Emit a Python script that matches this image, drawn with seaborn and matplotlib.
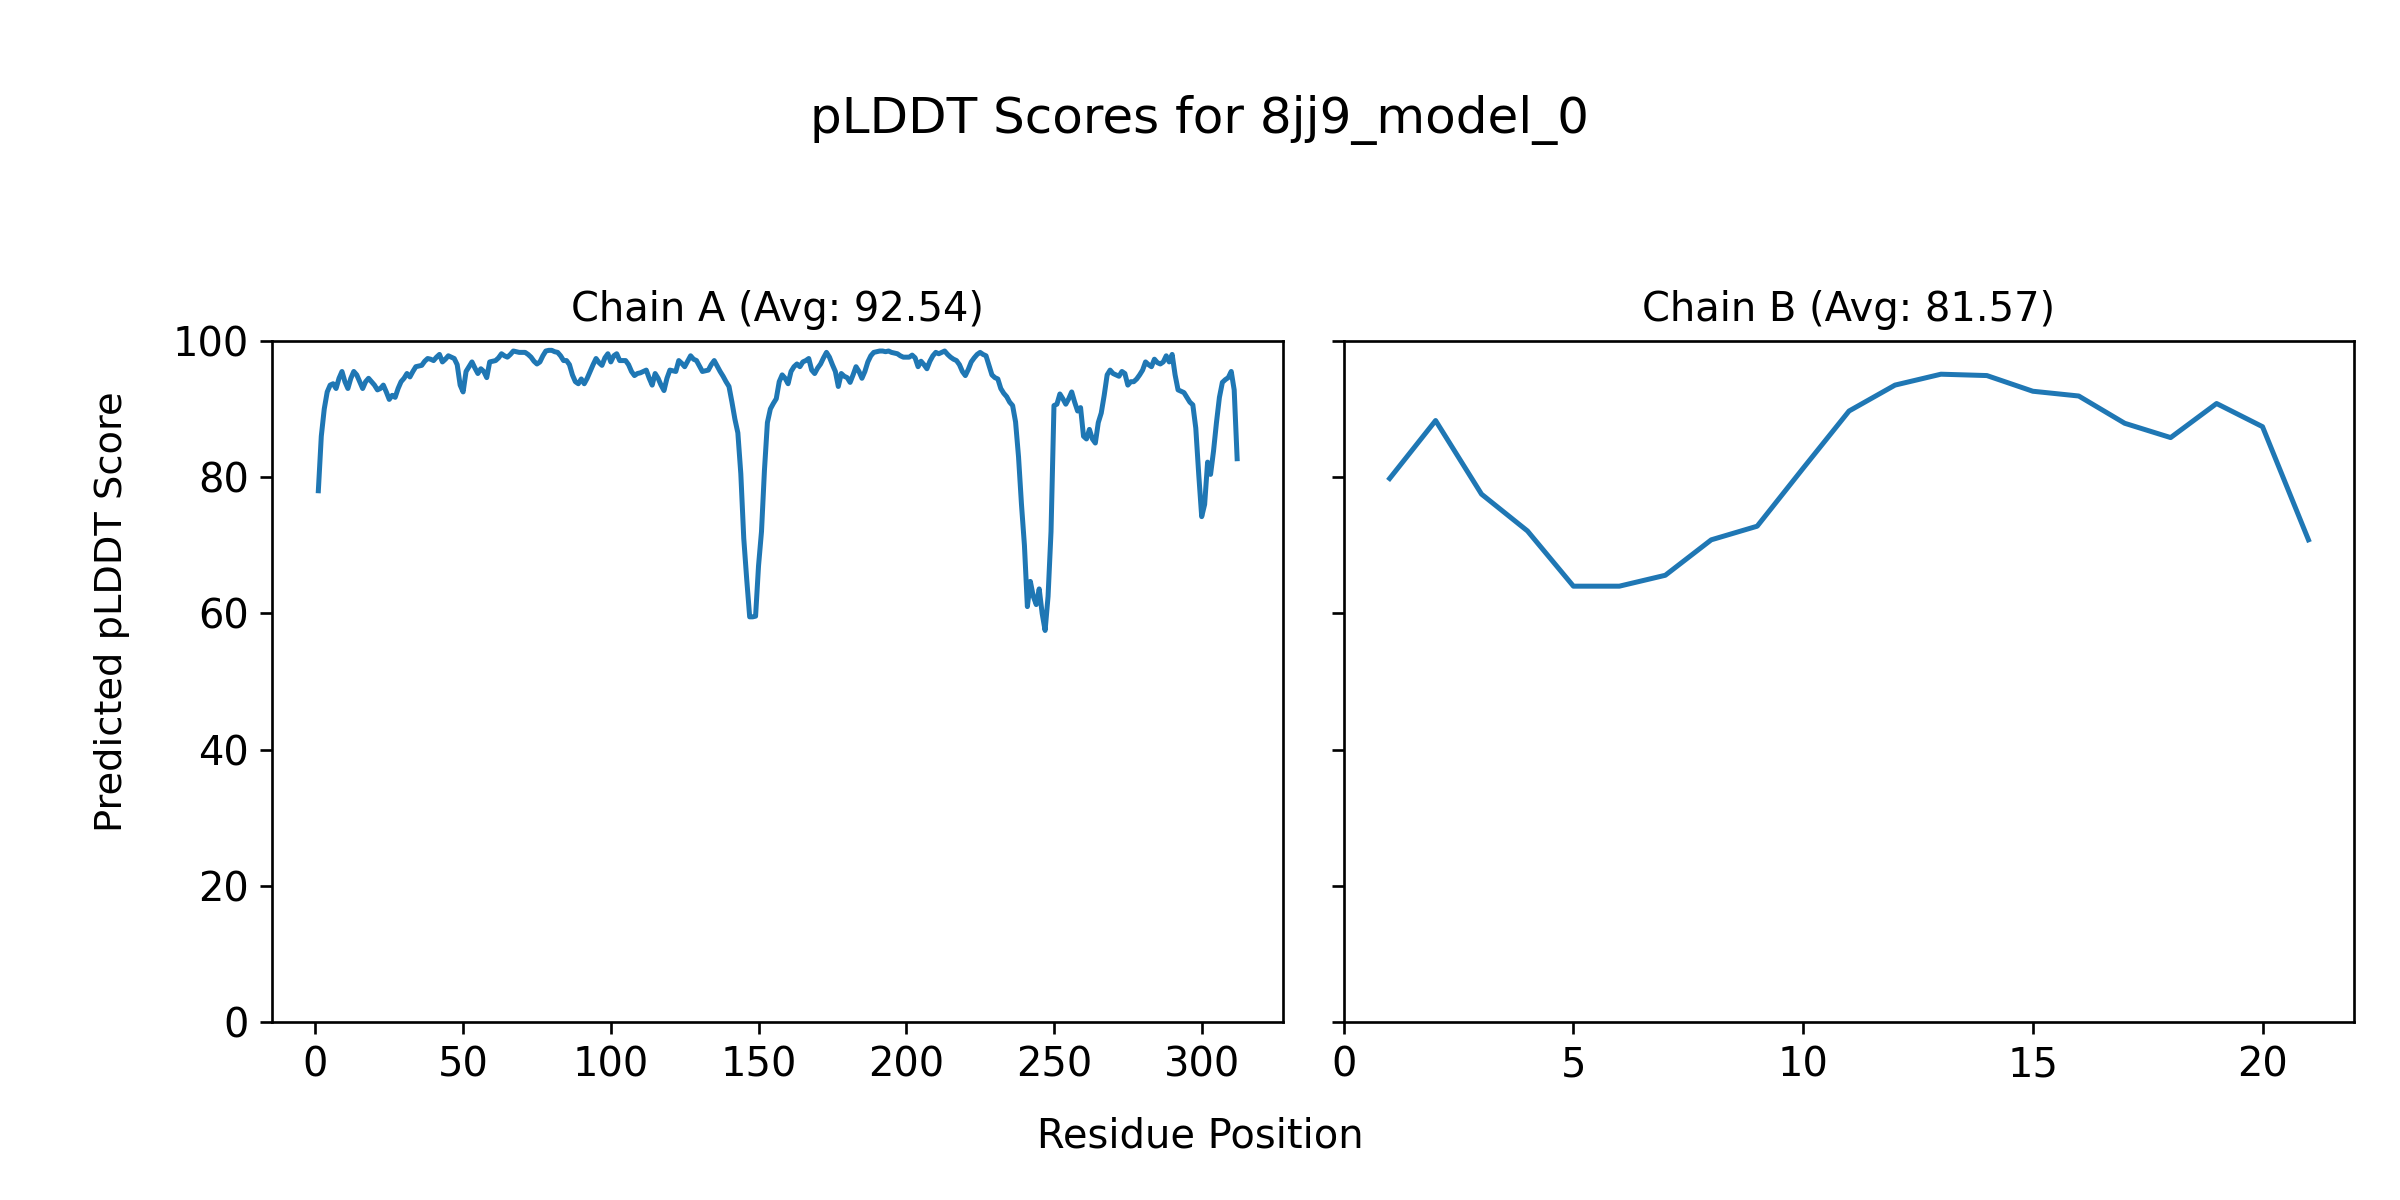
import matplotlib
matplotlib.use("Agg")
import matplotlib.pyplot as plt
import seaborn as sns

model_name = "8jj9_model_0"
chain_ids = ["A", "B"]
chain_avgs = [92.54, 81.57]

# per-residue pLDDT, chain A (residues 1..312)
plddt_a = [
    78, 86, 90, 92.5, 93.5, 93.7, 93, 94.5, 95.5, 94,
    93, 94.5, 95.5, 95, 94, 93, 94, 94.5, 94, 93.5,
    92.8, 93, 93.5, 92.5, 91.4, 92, 91.7, 93, 94, 94.5,
    95.2, 94.7, 95.5, 96.2, 96.3, 96.4, 97, 97.4, 97.3, 97.1,
    97.6, 98, 96.9, 97.3, 97.8, 97.6, 97.4, 96.5, 93.5, 92.5,
    95.5, 96.2, 96.9, 96, 95.2, 95.9, 95.5, 94.6, 96.9, 97,
    97.1, 97.5, 98.1, 97.8, 97.6, 98, 98.5, 98.4, 98.3, 98.3,
    98.3, 98, 97.6, 97, 96.6, 96.9, 97.8, 98.5, 98.6, 98.6,
    98.4, 98.3, 97.8, 97.1, 97.1, 96.5, 95, 94, 93.7, 94.4,
    93.7, 94.5, 95.5, 96.5, 97.4, 96.8, 96.4, 97.5, 98.1, 96.9,
    97.8, 98.1, 97.1, 97.1, 97.1, 96.5, 95.5, 94.9, 95.2, 95.3,
    95.5, 95.7, 94.5, 93.5, 95.2, 94.5, 93.5, 92.7, 94.5, 95.7,
    95.6, 95.5, 97.1, 96.7, 96.2, 97, 97.8, 97.3, 97.1, 96.3,
    95.5, 95.6, 95.7, 96.5, 97.1, 96.3, 95.5, 94.8, 94, 93.3,
    91, 88.5, 86.5, 80.5, 71, 65, 59.5, 59.5, 59.6, 67,
    72, 81, 88, 90, 90.8, 91.5, 94, 95, 94.5, 93.7,
    95.5, 96.2, 96.6, 96.2, 96.9, 97.1, 97.4, 95.7, 95.2, 96,
    96.6, 97.5, 98.3, 97.6, 96.5, 95.5, 93.3, 95.2, 94.8, 94.6,
    93.9, 95, 96.2, 95.5, 94.5, 95.5, 96.9, 97.8, 98.3, 98.4,
    98.5, 98.5, 98.4, 98.5, 98.3, 98.2, 98.1, 97.8, 97.6, 97.6,
    97.6, 97.9, 97.5, 96.2, 97, 96.5, 95.9, 97, 97.8, 98.3,
    98.1, 98.3, 98.5, 98, 97.6, 97.3, 97.1, 96.5, 95.5, 94.9,
    95.8, 96.9, 97.5, 98, 98.3, 98, 97.8, 96.4, 95, 94.6,
    94.4, 93, 92.3, 91.8, 91, 90.5, 88.1, 83, 76, 70,
    61, 64.7, 62.5, 61.3, 63.6, 60, 57.5, 62.5, 72, 90.5,
    90.7, 92.2, 91.5, 90.7, 91.5, 92.5, 91, 89.7, 90.2, 86,
    85.6, 87, 85.6, 85, 88, 89.4, 92, 95, 95.7, 95.2,
    95, 94.8, 95.5, 95.2, 93.5, 94, 94, 94.4, 95, 95.7,
    96.9, 96.5, 96.2, 97.3, 96.8, 96.6, 96.9, 97.8, 96.9, 98,
    95, 92.8, 92.6, 92.4, 91.7, 91, 90.6, 87.2, 80.4, 74.2,
    76, 82.2, 80.4, 83.8, 88, 91.7, 93.9, 94.3, 94.6, 95.5,
    92.8, 82.7,
]

# per-residue pLDDT, chain B (residues 1..21)
plddt_b = [
    79.8, 88.3, 77.5, 72.1, 64, 64, 65.6, 70.8, 72.8, 81.3,
    89.7, 93.5, 95.1, 94.9, 92.6, 91.9, 87.9, 85.8, 90.8, 87.4,
    70.8,
]

chain_scores = [plddt_a, plddt_b]

plt.rcParams['font.size'] = 12

fig, axes = plt.subplots(1, 2, figsize=(10, 5), dpi=240, sharey=True)
fig.subplots_adjust(left=0.1135, right=0.981, bottom=0.148, top=0.716, wspace=0.06)

for ax, cid, avg, scores in zip(axes, chain_ids, chain_avgs, chain_scores):
    residues = list(range(1, len(scores) + 1))
    sns.lineplot(x=residues, y=scores, ax=ax, color="#1f77b4", linewidth=1.5)
    ax.set_title(f"Chain {cid} (Avg: {avg:.2f})", fontsize=12)
    ax.set_ylim(0, 100)

fig.suptitle(f"pLDDT Scores for {model_name}", fontsize=15, y=0.9, va="center")
fig.text(0.5, 0.0525, "Residue Position", ha="center", va="center", fontsize=12)
fig.text(0.0466, 0.49, "Predicted pLDDT Score", ha="center", va="center",
         rotation=90, fontsize=11.5)

plt.savefig("out.png", dpi=240)
plt.close()
